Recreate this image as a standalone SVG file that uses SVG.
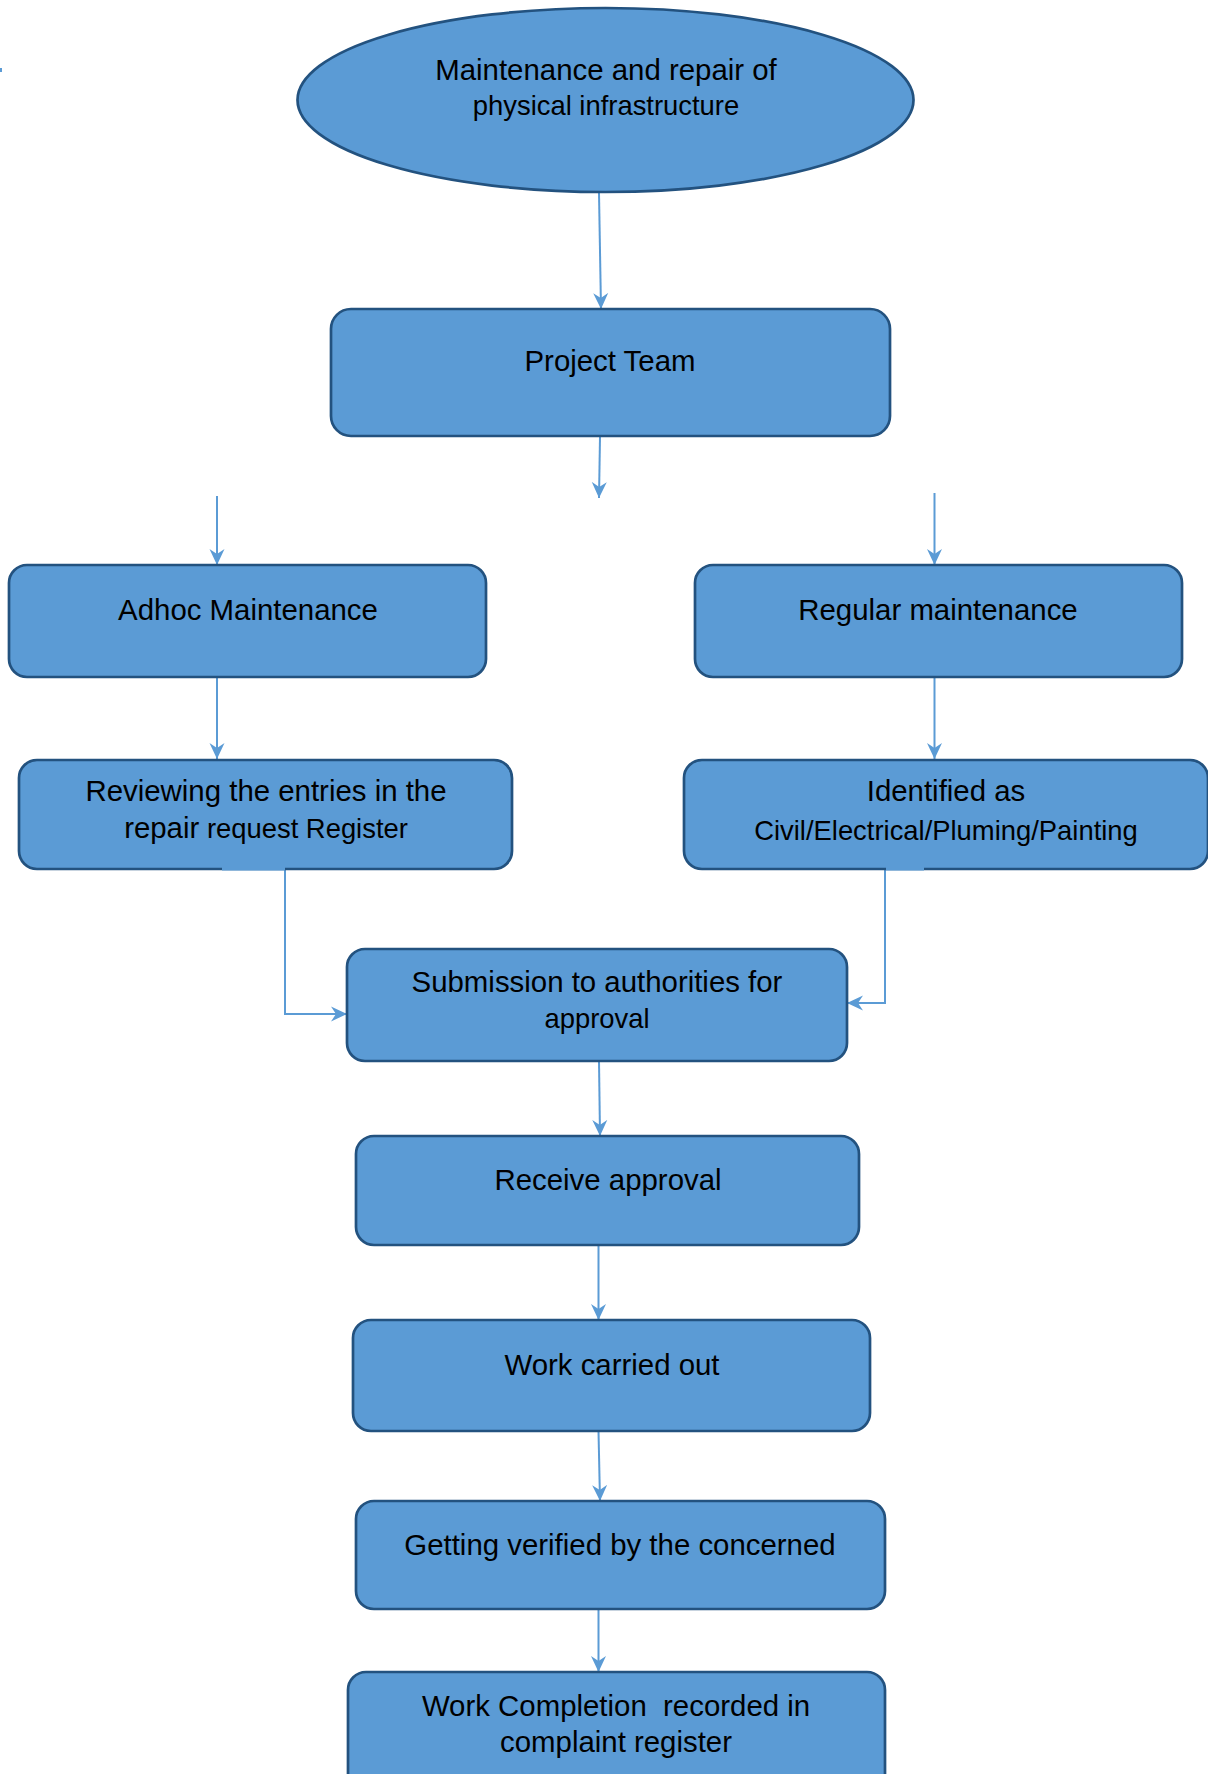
<svg xmlns="http://www.w3.org/2000/svg" width="1208" height="1774" viewBox="0 0 1208 1774">
<defs>
<style>
.n{fill:#5B9BD5;stroke:#23527F;stroke-width:2.7}
.t{font-family:"Liberation Sans",Arial,sans-serif;font-size:29.4px;fill:#000;text-anchor:middle}
.c{font-family:"Liberation Sans",Arial,sans-serif;font-size:27.4px}
.e{fill:none;stroke:#5B9BD5;stroke-width:2}
.patch{fill:#5B9BD5;stroke:none}
</style>
<marker id="ah" markerUnits="userSpaceOnUse" markerWidth="17" markerHeight="17" refX="16" refY="8.5" orient="auto">
<path d="M0,1 L16,8.5 L0,16 L5,8.5 z" fill="#5B9BD5"/>
</marker>
</defs>
<rect width="1208" height="1774" fill="#fff"/>
<rect x="0" y="68" width="2" height="4" fill="#5B9BD5"/>

<g id="connectors">
<path class="e" d="M599,193 L601,309" marker-end="url(#ah)"/>
<path class="e" d="M600,437 L599,498" marker-end="url(#ah)"/>
<path class="e" d="M217,496 L217,565" marker-end="url(#ah)"/>
<path class="e" d="M934.5,493 L934.5,565" marker-end="url(#ah)"/>
<path class="e" d="M217,677 L217,759" marker-end="url(#ah)"/>
<path class="e" d="M934.5,677 L934.5,759" marker-end="url(#ah)"/>
<path class="e" d="M285,869 L285,1014 L347,1014" marker-end="url(#ah)"/>
<path class="e" d="M885,869 L885,1003 L847,1003" marker-end="url(#ah)"/>
<path class="e" d="M599,1061 L600,1136" marker-end="url(#ah)"/>
<path class="e" d="M598.5,1245 L598.5,1320" marker-end="url(#ah)"/>
<path class="e" d="M598.5,1431 L600,1501" marker-end="url(#ah)"/>
<path class="e" d="M598.5,1609 L598.5,1672" marker-end="url(#ah)"/>
</g>

<g id="start">
<ellipse class="n" cx="605.5" cy="100" rx="308" ry="92"/>
<text class="t" x="606" y="80">Maintenance and repair of</text>
<text class="t c" x="606" y="115">physical infrastructure</text>
</g>

<g id="project-team">
<rect class="n" x="331" y="309" width="559" height="127" rx="20"/>
<text class="t" x="610" y="371">Project Team</text>
</g>

<g id="adhoc">
<rect class="n" x="9" y="565" width="477" height="112" rx="18"/>
<text class="t" x="248" y="620">Adhoc Maintenance</text>
</g>

<g id="regular">
<rect class="n" x="695" y="565" width="487" height="112" rx="18"/>
<text class="t" x="938" y="620">Regular maintenance</text>
</g>

<g id="reviewing">
<rect class="n" x="19" y="760" width="493" height="109" rx="18"/>
<rect class="patch" x="222" y="866" width="63" height="4.5"/>
<text class="t" x="266" y="801">Reviewing the entries in the</text>
<text class="t" x="266" y="838">repair<tspan class="c"> request Register</tspan></text>
</g>

<g id="identified">
<rect class="n" x="684" y="760" width="524" height="109" rx="18"/>
<rect class="patch" x="886" y="866" width="38" height="4.5"/>
<text class="t" x="946" y="801">Identified as</text>
<text class="t c" x="946" y="840">Civil/Electrical/Pluming/Painting</text>
</g>

<g id="submission">
<rect class="n" x="347" y="949" width="500" height="112" rx="18"/>
<text class="t" x="597" y="992">Submission to authorities for</text>
<text class="t c" x="597" y="1028">approval</text>
</g>

<g id="receive">
<rect class="n" x="356" y="1136" width="503" height="109" rx="18"/>
<text class="t" x="608" y="1190">Receive approval</text>
</g>

<g id="work-carried">
<rect class="n" x="353" y="1320" width="517" height="111" rx="18"/>
<text class="t" x="612" y="1375">Work carried out</text>
</g>

<g id="verified">
<rect class="n" x="356" y="1501" width="529" height="108" rx="18"/>
<text class="t" x="620" y="1555">Getting verified by the concerned</text>
</g>

<g id="completion">
<rect class="n" x="348" y="1672" width="537" height="130" rx="18"/>
<text class="t" x="616" y="1716" xml:space="preserve">Work Completion  recorded in</text>
<text class="t" x="616" y="1752">complaint register</text>
</g>
</svg>
